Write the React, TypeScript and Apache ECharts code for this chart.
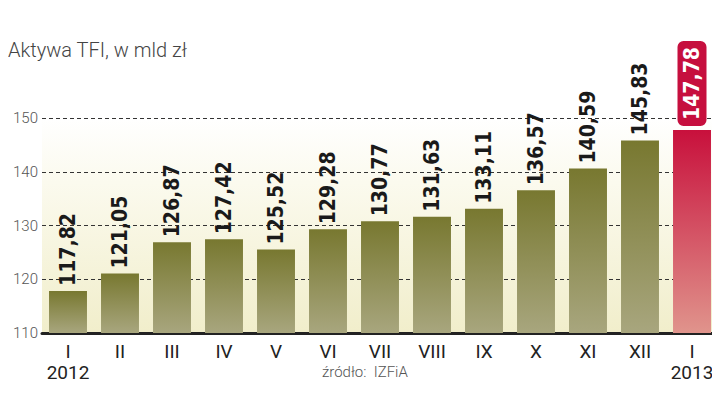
import React, { useEffect, useRef } from "react";
import * as echarts from "echarts";

const months = ["I", "II", "III", "IV", "V", "VI", "VII", "VIII", "IX", "X", "XI", "XII", "I"];
const years = ["2012", "", "", "", "", "", "", "", "", "", "", "", "2013"];
const assets = [117.82, 121.05, 126.87, 127.42, 125.52, 129.28, 130.77, 131.63, 133.11, 136.57, 140.59, 145.83, 147.78];
const yTicks = [110, 120, 130, 140, 150];
const titleText = "Aktywa TFI, w mld zł";
const sourceText = "źródło:  IZFiA";

const fmt = (v: number) => v.toFixed(2).replace(".", ",");

export default function App() {
  const ref = useRef<HTMLDivElement>(null);
  useEffect(() => {
    if (!ref.current) return;
    const chart = echarts.init(ref.current, null, { renderer: "svg" });
    const olive = new echarts.graphic.LinearGradient(0, 0, 0, 1, [
      { offset: 0, color: "#787830" },
      { offset: 1, color: "#a8a67e" },
    ]);
    const red = new echarts.graphic.LinearGradient(0, 0, 0, 1, [
      { offset: 0, color: "#c8103c" },
      { offset: 1, color: "#e0948c" },
    ]);
    const last = assets.length - 1;
    const data = assets.map((v, i) =>
      i === last
        ? {
            value: v,
            itemStyle: { color: red },
            label: {
              color: "#ffffff",
              backgroundColor: "#c60f3e",
              borderRadius: 6,
              padding: [4, 6, 4, 6],
              distance: 4,
            },
          }
        : { value: v, itemStyle: { color: olive } }
    );
    chart.setOption({
      animation: false,
      backgroundColor: "#ffffff",
      title: {
        text: titleText,
        left: 3,
        top: 35,
        textStyle: { fontFamily: "Roboto", fontWeight: 300, fontSize: 20, color: "#444444" },
      },
      graphic: [
        {
          type: "text",
          left: 322,
          top: 364,
          style: { text: sourceText, fontFamily: "Roboto", fontWeight: 300, fontSize: 15, fill: "#555555" },
        },
      ],
      grid: {
        left: 42,
        right: 2,
        top: 118,
        bottom: 72,
        show: true,
        borderWidth: 0,
        backgroundColor: new echarts.graphic.LinearGradient(0, 0, 0, 1, [
          { offset: 0, color: "#ffffff" },
          { offset: 0.3, color: "#fbfaee" },
          { offset: 1, color: "#f1eecb" },
        ]),
      },
      xAxis: {
        type: "category",
        data: months,
        axisTick: { show: false },
        axisLine: { lineStyle: { color: "#222222", width: 3 } },
        axisLabel: {
          interval: 0,
          hideOverlap: false,
          margin: 8,
          fontFamily: "Roboto",
          fontSize: 19,
          color: "#222222",
          lineHeight: 21,
          formatter: (val: string, idx: number) => (years[idx] ? `${val}\n${years[idx]}` : val),
        },
      },
      yAxis: {
        type: "value",
        min: yTicks[0],
        max: yTicks[yTicks.length - 1],
        interval: 10,
        axisLine: { show: false },
        axisTick: { show: false },
        splitLine: { lineStyle: { color: "#333333", type: [4, 3], width: 1 } },
        axisLabel: { margin: 4, fontFamily: "Roboto", fontWeight: 300, fontSize: 15, color: "#555555" },
      },
      series: [
        {
          type: "bar",
          data,
          barCategoryGap: "27%",
          label: {
            show: true,
            position: "top",
            distance: 5,
            rotate: 90,
            align: "left",
            verticalAlign: "middle",
            fontFamily: "DejaVu Sans Condensed",
            fontWeight: "bold",
            fontSize: 21,
            color: "#1a1a1a",
            formatter: (p: any) => fmt(p.value),
          },
        },
      ],
    });
    return () => chart.dispose();
  }, []);
  return <div ref={ref} style={{ width: 720, height: 405, margin: -8 }} />;
}
